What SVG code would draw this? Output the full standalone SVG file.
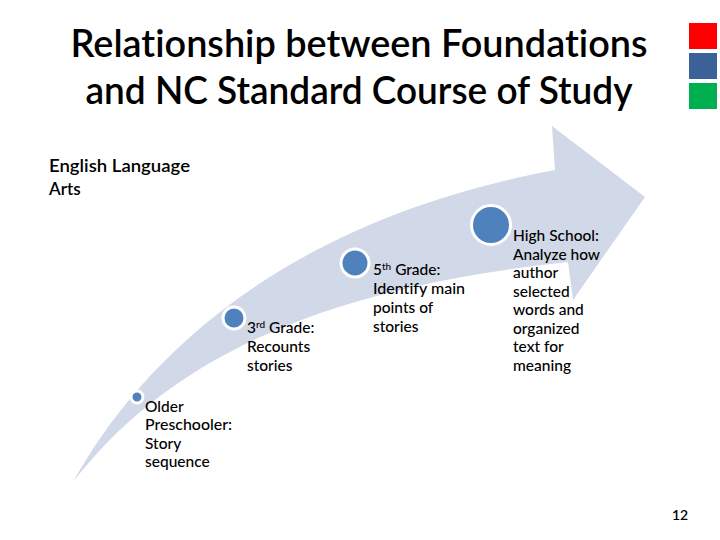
<svg xmlns="http://www.w3.org/2000/svg" width="720" height="540" viewBox="0 0 720 540">
<style>
  .t { font-family: Lato, "DejaVu Sans Condensed", sans-serif; fill: #000; font-variant-ligatures: none; font-feature-settings: "liga" 0, "clig" 0, "dlig" 0, "calt" 0; }
  .title { font-size: 38px; text-anchor: middle; font-weight: 600; }
  .lbl { font-size: 15.5px; font-weight: 500; }
  .sup { font-size: 10px; }
  .dot { fill: #4f81bd; stroke: #ffffff; }
</style>
<rect width="720" height="540" fill="#ffffff"/>
<g id="title">
  <text class="t title" x="359" y="57" textLength="577" lengthAdjust="spacingAndGlyphs">Relationship between Foundations</text>
  <text class="t title" x="359" y="104" textLength="547" lengthAdjust="spacingAndGlyphs">and NC Standard Course of Study</text>
</g>
<g id="squares">
  <rect x="689" y="23" width="28" height="26" fill="#ff0000"/>
  <rect x="689" y="53" width="28" height="26" fill="#3a6198"/>
  <rect x="689" y="83" width="28" height="26" fill="#00b050"/>
</g>
<g id="subject">
  <text class="t" x="49" y="172" font-size="17" font-weight="600" textLength="141" lengthAdjust="spacingAndGlyphs">English Language</text>
  <text class="t" x="49" y="195" font-size="17" font-weight="600">Arts</text>
</g>
<g id="arrow">
  <path d="M73,482 C130,380 260,225 555,170 L552,126 L645,197 L573,300 L568,262 C300,290 160,370 73,482 Z" fill="#d1d8e7"/>
</g>
<g id="node-preschool">
  <circle class="dot" cx="137" cy="397" r="6" stroke-width="3"/>
  <text class="t lbl" x="145" y="412">Older</text>
  <text class="t lbl" x="145" y="430" textLength="87" lengthAdjust="spacingAndGlyphs">Preschooler:</text>
  <text class="t lbl" x="145" y="449">Story</text>
  <text class="t lbl" x="145" y="467">sequence</text>
</g>
<g id="node-3rd">
  <circle class="dot" cx="234" cy="318" r="11" stroke-width="3"/>
  <text class="t lbl" x="247" y="333">3<tspan class="sup" dy="-5">rd</tspan><tspan dy="5"> Grade:</tspan></text>
  <text class="t lbl" x="247" y="352">Recounts</text>
  <text class="t lbl" x="247" y="371">stories</text>
</g>
<g id="node-5th">
  <circle class="dot" cx="355" cy="263" r="14" stroke-width="3"/>
  <text class="t lbl" x="373" y="275">5<tspan class="sup" dy="-5">th</tspan><tspan dy="5"> Grade:</tspan></text>
  <text class="t lbl" x="373" y="294" textLength="92" lengthAdjust="spacingAndGlyphs">Identify main</text>
  <text class="t lbl" x="373" y="313">points of</text>
  <text class="t lbl" x="373" y="332">stories</text>
</g>
<g id="node-hs">
  <circle class="dot" cx="491" cy="225" r="19.5" stroke-width="3"/>
  <text class="t lbl" x="513" y="241">High School:</text>
  <text class="t lbl" x="513" y="260" textLength="87" lengthAdjust="spacingAndGlyphs">Analyze how</text>
  <text class="t lbl" x="513" y="278">author</text>
  <text class="t lbl" x="513" y="297">selected</text>
  <text class="t lbl" x="513" y="315">words and</text>
  <text class="t lbl" x="513" y="334">organized</text>
  <text class="t lbl" x="513" y="352">text for</text>
  <text class="t lbl" x="513" y="371">meaning</text>
</g>
<g id="page">
  <text class="t" x="672" y="520" font-size="14" font-weight="600">12</text>
</g>
</svg>
